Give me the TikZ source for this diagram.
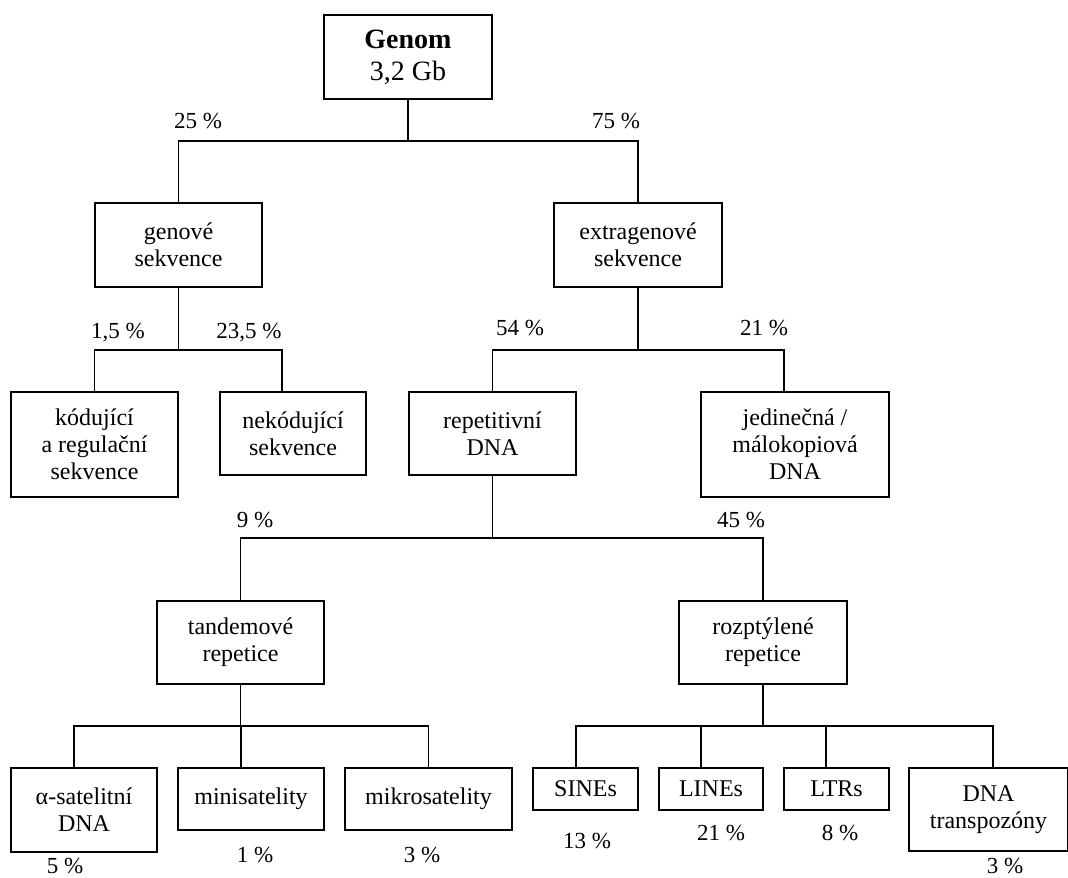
\documentclass[tikz,border=0pt]{standalone}
\usepackage{fontspec}
\setmainfont{Liberation Serif}
\tikzset{
  >=latex,
}
\tikzstyle{box}=[draw,line width=0.6pt,align=center,inner sep=0pt,font=\fontsize{12}{13.5}\selectfont]
\tikzstyle{link}=[line width=0.6pt]
\tikzstyle{pct}=[anchor=base,inner sep=0pt,font=\fontsize{11.5}{13}\selectfont]

\begin{document}
\begin{tikzpicture}[x=0.5pt,y=-0.5pt]
    \useasboundingbox[fill=white] (0,0) rectangle (1068,877);

    \node[box,minimum width=84pt,minimum height=42pt,font=\fontsize{14}{16}\selectfont]
      (genom) at (408,57) {\textbf{Genom}\\3,2 Gb};
    \node[box,minimum width=83.5pt,minimum height=42pt] (genove) at (178.5,245) {genové\\sekvence};
    \node[box,minimum width=84pt,minimum height=42pt] (extra) at (638,245) {extragenové\\sekvence};

    \node[box,minimum width=83.5pt,minimum height=52.5pt] (kod) at (94.5,444.5) {kódující\\a regulační\\sekvence};
    \node[box,minimum width=73pt,minimum height=41.5pt] (nekod) at (293,433.5) {nekódující\\sekvence};
    \node[box,minimum width=83.5pt,minimum height=41.5pt] (repet) at (492.5,433.5) {repetitivní\\DNA};
    \node[box,minimum width=94pt,minimum height=52.5pt] (jedin) at (795,444.5) {jedinečná /\\málokopiová\\DNA};

    \node[box,minimum width=83.5pt,minimum height=41.5pt] (tandem) at (240.5,642.5) {tandemové\\repetice};
    \node[box,minimum width=84pt,minimum height=41.5pt] (rozpt) at (763,642.5) {rozptýlené\\repetice};

    \node[box,minimum width=73pt,minimum height=42pt] (alfa) at (84,810) {α-satelitní\\DNA};
    \node[box,minimum width=73pt,minimum height=31pt] (mini) at (251,799) {minisatelity};
    \node[box,minimum width=83.5pt,minimum height=31pt] (mikro) at (428.5,799) {mikrosatelity};
    \node[box,minimum width=52.5pt,minimum height=21pt] (sines) at (585.5,789) {SINEs};
    \node[box,minimum width=52pt,minimum height=21pt] (lines) at (711,789) {LINEs};
    \node[box,minimum width=52.5pt,minimum height=21pt] (ltrs) at (836.5,789) {LTRs};
    \node[box,minimum width=79.5pt,minimum height=41.5pt] (transp) at (988.5,809.5) {DNA\\transpozóny};

    \coordinate (j1) at (genom.south |- 0,141);
    \coordinate (j2) at (genove.south |- 0,350);
    \coordinate (j3) at (extra.south |- 0,350);
    \coordinate (j4) at (repet.south |- 0,538);
    \coordinate (j5) at (tandem.south |- 0,726);
    \coordinate (j6) at (rozpt.south |- 0,726);

    \draw[link] (genom) -- (j1) -| (genove);
    \draw[link] (j1) -| (extra);
    \draw[link] (genove) -- (j2) -| (kod);
    \draw[link] (j2) -| ([xshift=-5.5pt]nekod.north);
    \draw[link] (extra) -- (j3) -| (repet);
    \draw[link] (j3) -| ([xshift=-5.5pt]jedin.north);
    \draw[link] (repet) -- (j4) -| (tandem);
    \draw[link] (j4) -| (rozpt);
    \draw[link] (tandem) -- (j5) -| ([xshift=-5pt]alfa.north);
    \draw[link] (j5) -| ([xshift=-5pt]mini.north);
    \draw[link] (j5) -| (mikro);
    \draw[link] (rozpt) -- (j6) -| ([xshift=-4.75pt]sines.north);
    \draw[link] (j6) -| ([xshift=-5pt]lines.north);
    \draw[link] (j6) -| ([xshift=-5.25pt]ltrs.north);
    \draw[link] (j6) -| ([xshift=2.25pt]transp.north);

    \node[pct] (p25) at (198,129) {25 \%};
    \node[pct] (p75) at (616,129) {75 \%};
    \node[pct] (p15) at (118,338) {1,5 \%};
    \node[pct] (p235) at (249,338) {23,5 \%};
    \node[pct] (p54) at (520,335) {54 \%};
    \node[pct] (p21a) at (764,335) {21 \%};
    \node[pct] (p9) at (255,527) {9 \%};
    \node[pct] (p45) at (741,527) {45 \%};
    \node[pct] (p5) at (65,873) {5 \%};
    \node[pct] (p1) at (255,862) {1 \%};
    \node[pct] (p3a) at (422,862) {3 \%};
    \node[pct] (p13) at (587,848) {13 \%};
    \node[pct] (p21b) at (721,840) {21 \%};
    \node[pct] (p8) at (840,840) {8 \%};
    \node[pct] (p3b) at (1005,873) {3 \%};
  \end{tikzpicture}
\end{document}
